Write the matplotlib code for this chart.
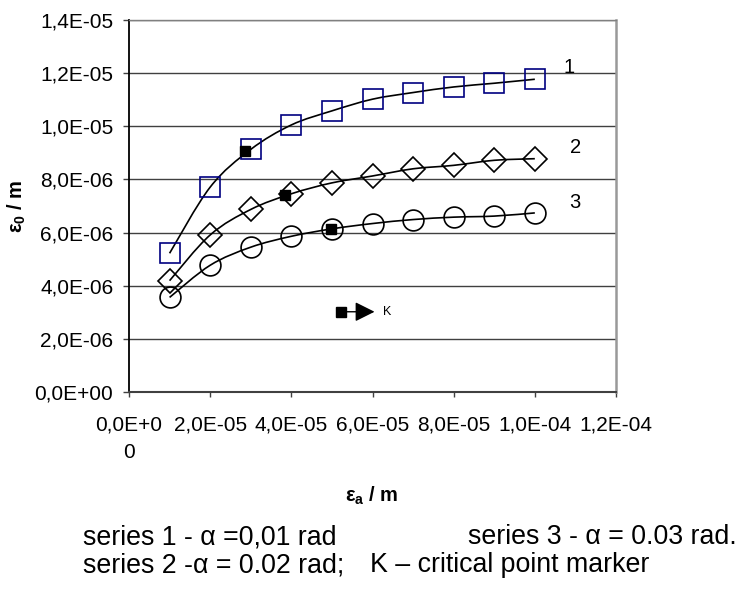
import numpy as np
import matplotlib
matplotlib.use("Agg")
import matplotlib.pyplot as plt
from matplotlib.path import Path
from matplotlib.patches import PathPatch

plt.rcParams['font.family'] = ['Liberation Sans', 'DejaVu Sans']
plt.rcParams['mathtext.default'] = 'regular'

# ---------------- data ----------------
eps_a = [1e-5, 2e-5, 3e-5, 4e-5, 5e-5, 6e-5, 7e-5, 8e-5, 9e-5, 1e-4]
series1 = [5.22e-6, 7.71e-6, 9.13e-6, 10.05e-6, 10.58e-6, 11.02e-6, 11.27e-6, 11.48e-6, 11.62e-6, 11.77e-6]
series2 = [4.19e-6, 5.91e-6, 6.87e-6, 7.46e-6, 7.87e-6, 8.13e-6, 8.40e-6, 8.53e-6, 8.72e-6, 8.78e-6]
series3 = [3.56e-6, 4.77e-6, 5.45e-6, 5.86e-6, 6.14e-6, 6.34e-6, 6.49e-6, 6.58e-6, 6.62e-6, 6.74e-6]
crit_x = [2.87e-5, 3.85e-5, 4.98e-5]
crit_y = [9.06e-6, 7.40e-6, 6.15e-6]
series_labels = ['1', '2', '3']

xtick_vals = [0, 2e-5, 4e-5, 6e-5, 8e-5, 1e-4, 1.2e-4]
xtick_labels = ['0,0E+0\n0', '2,0E-05', '4,0E-05', '6,0E-05', '8,0E-05', '1,0E-04', '1,2E-04']
ytick_vals = [0, 2e-6, 4e-6, 6e-6, 8e-6, 1e-5, 1.2e-5, 1.4e-5]
ytick_labels = ['0,0E+00', '2,0E-06', '4,0E-06', '6,0E-06', '8,0E-06', '1,0E-05', '1,2E-05', '1,4E-05']

k_marker_x, k_marker_y = 5.22e-5, 3.02e-6

# ---------------- figure ----------------
W, H = 741, 592
fig = plt.figure(figsize=(W / 100, H / 100), dpi=100)
ax = fig.add_axes([129 / W, 1 - 392 / H, (616 - 129) / W, (392 - 20) / H])
ax.set_xlim(0, 1.2e-4)
ax.set_ylim(0, 1.4e-5)


def smooth_path(x, y):
    pts = np.column_stack([x, y])
    n = len(pts)
    verts = [pts[0]]
    codes = [Path.MOVETO]
    for i in range(n - 1):
        p0 = pts[i - 1] if i > 0 else pts[i]
        p1 = pts[i]
        p2 = pts[i + 1]
        p3 = pts[i + 2] if i + 2 < n else pts[i + 1]
        c1 = p1 + (p2 - p0) / 6.0
        c2 = p2 - (p3 - p1) / 6.0
        verts += [c1, c2, p2]
        codes += [Path.CURVE4] * 3
    return Path(verts, codes)


styles = [
    dict(marker='s', ms=15, mec='#000080'),
    dict(marker='D', ms=12.5, mec='black'),
    dict(marker='o', ms=15, mec='black'),
]
label_offsets = [(25, 8.5), (29, 8), (29, 7.5)]

for ys, st, lab, off in zip([series1, series2, series3], styles, series_labels, label_offsets):
    ax.add_patch(PathPatch(smooth_path(eps_a, ys), fill=False, edgecolor='black',
                           lw=1.2, zorder=3, transform=ax.transData))
    ax.plot(eps_a, ys, linestyle='none', marker=st['marker'], ms=st['ms'],
            mec=st['mec'], mfc='none', mew=1.2, zorder=4)
    ax.annotate(lab, xy=(eps_a[-1], ys[-1]), xytext=off, textcoords='offset points',
                ha='center', va='center', fontsize=14.5)

ax.plot(crit_x, crit_y, linestyle='none', marker='s', ms=6.5, color='black', zorder=5)

# K marker legend
ax.plot([k_marker_x], [k_marker_y], linestyle='none', marker='s', ms=6.5, color='black', zorder=5)
ax.annotate('', xy=(k_marker_x + 0.83e-5, k_marker_y), xytext=(k_marker_x + 0.15e-5, k_marker_y),
            arrowprops=dict(arrowstyle='-|>', mutation_scale=30, lw=1, color='black',
                            shrinkA=0, shrinkB=0), zorder=5)
ax.annotate('K', xy=(k_marker_x, k_marker_y), xytext=(30, 0), textcoords='offset points',
            ha='left', va='center', fontsize=9)

# grid & spines
ax.yaxis.grid(True, color='#404040', lw=1)
ax.set_axisbelow(True)
ax.spines['left'].set_color('black')
ax.spines['left'].set_linewidth(1.3)
ax.spines['bottom'].set_color('#404040')
ax.spines['bottom'].set_linewidth(1.5)
ax.spines['right'].set_color('#999999')
ax.spines['right'].set_linewidth(1.8)
ax.spines['top'].set_color('#808080')
ax.spines['top'].set_linewidth(1.0)

ax.set_xticks(xtick_vals)
ax.set_xticklabels(xtick_labels, linespacing=1.6)
ax.set_yticks(ytick_vals)
ax.set_yticklabels(ytick_labels)
ax.tick_params(axis='x', direction='out', length=3.6, width=1, color='#404040',
               labelsize=15, pad=13)
ax.tick_params(axis='y', direction='out', length=4.3, width=1, color='#404040',
               labelsize=15, pad=7)

# axis titles
fig.text(17 / W, 1 - 206 / H, r'ε$_0$ / m', rotation=90, ha='center', va='center',
         fontsize=14.5, fontweight='bold')
fig.text(372 / W, 1 - 496 / H, r'ε$_a$ / m', ha='center', va='center',
         fontsize=14.5, fontweight='bold')

# footnote
fs = 19.3
fig.text(83 / W, 1 - 544 / H, 'series 1 - α =0,01 rad', ha='left', va='baseline', fontsize=fs)
fig.text(468 / W, 1 - 544 / H, 'series 3 - α = 0.03 rad.', ha='left', va='baseline', fontsize=fs)
fig.text(83 / W, 1 - 572 / H, 'series 2 -α = 0.02 rad;', ha='left', va='baseline', fontsize=fs)
fig.text(370 / W, 1 - 572 / H, 'K – critical point marker', ha='left', va='baseline', fontsize=fs)

fig.savefig('out.png', dpi=100)
